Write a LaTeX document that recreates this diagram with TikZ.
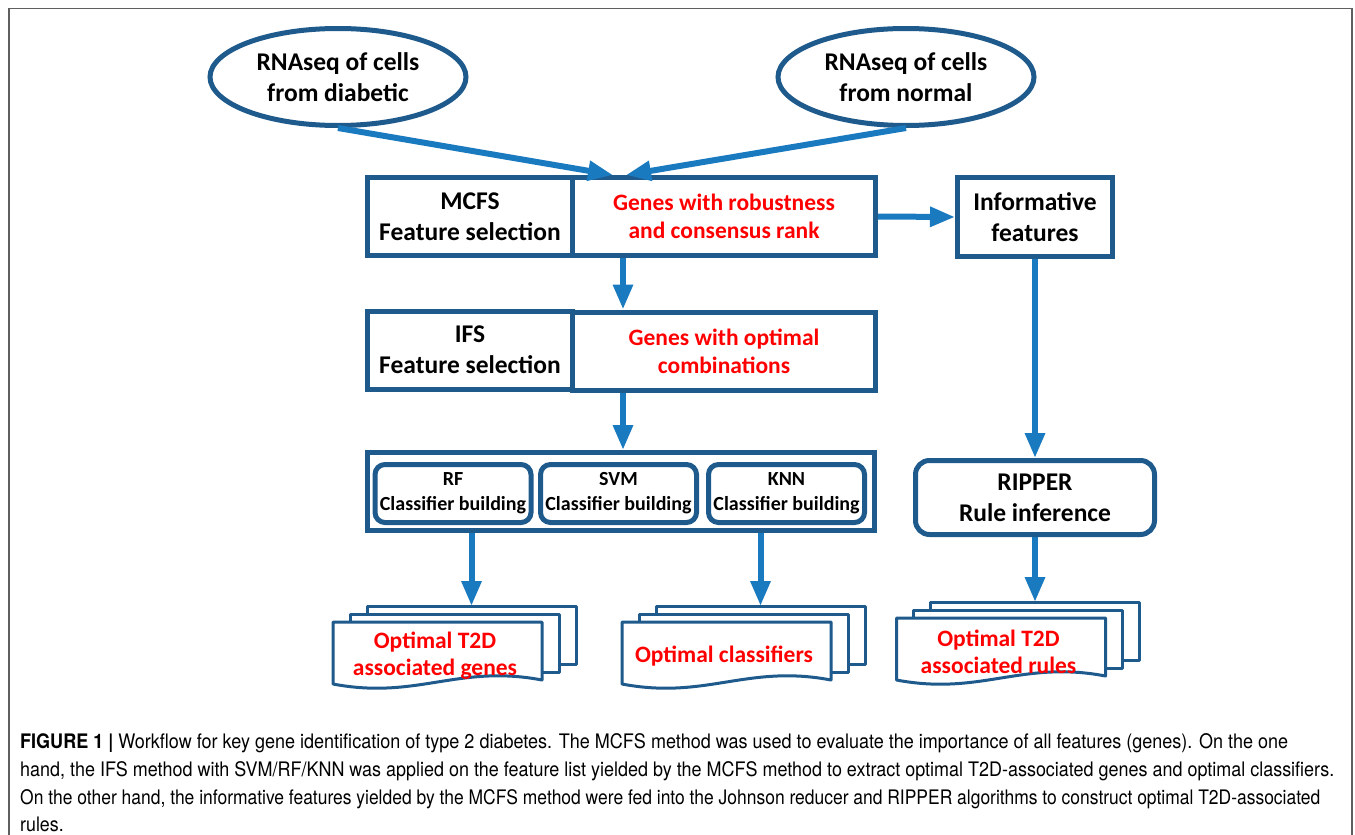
\documentclass[tikz,border=0pt]{standalone}
\usepackage{fontspec}
\usepackage{graphicx}
\usetikzlibrary{arrows.meta,shapes.geometric,calc}
\newfontfamily\diagfont{Carlito}
\newfontfamily\capfont{TeX Gyre Heros}
\definecolor{boxblue}{RGB}{31,90,140}
\definecolor{flowblue}{RGB}{26,122,192}
\definecolor{hired}{RGB}{255,0,0}
\definecolor{framegray}{RGB}{95,95,95}
\tikzset{
  base/.style={draw=boxblue,line width=5pt,align=center,inner sep=0pt,
    font=\diagfont\bfseries\fontsize{25.5}{31}\selectfont},
  src/.style={base,ellipse,fill=white,minimum width=256pt,minimum height=97pt},
  stage/.style={base,rectangle,minimum height=78pt},
  result/.style={stage,text=hired,font=\diagfont\bfseries\fontsize{23.5}{28}\selectfont},
  clfbox/.style={base,rounded corners=10pt,minimum width=156pt,minimum height=58pt,
    font=\diagfont\bfseries\fontsize{20}{25}\selectfont},
  flow/.style={draw=flowblue,line width=6pt,-{Triangle[length=25pt,width=19pt]}},
  sheet/.style={draw=boxblue,line width=3pt,fill=white,line join=round},
  outtext/.style={text=hired,align=center,inner sep=0pt,
    font=\diagfont\bfseries\fontsize{23.5}{27}\selectfont},
  capline/.style={anchor=base west,inner sep=0pt,font=\capfont\fontsize{20}{24}\selectfont}
}
% stack of three sheets: name, front top-left x, y, text
\newcommand{\docstack}[4]{%
  \draw[sheet] (#2+34,#3-16) rectangle ++(209,58);
  \draw[sheet] (#2+17,#3-8) rectangle ++(209,58);
  \draw[sheet] (#2,#3) -- ++(209,0) -- ++(0,58)
    .. controls (#2+125,#3+42) and (#2+84,#3+78) .. (#2,#3+62) -- cycle;
  \node[outtext] (#1) at (#2+102,#3+34) {#4};
  \coordinate (#1top) at (#2+138.5,#3-16);
}
\begin{document}
\begin{tikzpicture}[x=1pt,y=-1pt]
\useasboundingbox (0,0) rectangle (1355,835);
\draw[framegray,line width=1.5pt] (9,835) -- (9,8.5) -- (1352,8.5) -- (1352,835);

% inputs
\node[src] (dia) at (338,77) {RNAseq of cells\\from diabetic};
\node[src] (nor) at (906,77) {RNAseq of cells\\from normal};

% selection stages
\node[stage,minimum width=205pt] (mcfs) at (470,216.5) {MCFS\\Feature selection};
\node[result,minimum width=303pt] (robust) at (724,216.5) {Genes with robustness\\and consensus rank};
\node[stage,minimum width=155pt,minimum height=79pt] (info) at (1035,217) {Informative\\features};
\node[stage,minimum width=205pt] (ifs) at (470,350) {IFS\\Feature selection};
\node[result,minimum width=303pt] (optcomb) at (724,351) {Genes with optimal\\combinations};

% classifiers
\node[stage,minimum width=507pt] (clf) at (621,491.5) {};
\foreach \n/\x/\t in {rf/453/RF,svm/618.5/SVM,knn/786.5/KNN}
  \node[clfbox] (\n) at (\x,493.5) {\t\\Classifier building};
\node[base,rounded corners=14pt,minimum width=239pt,minimum height=74pt] (ripper) at (1035,497.5) {RIPPER\\Rule inference};

% outputs
\docstack{genes}{333}{622}{Optimal T2D\\associated genes}
\docstack{clss}{622}{622}{Optimal classifiers}
\docstack{rules}{896.5}{618}{Optimal T2D\\associated rules}

% connectors
\coordinate (inL) at ($(robust.north west)+(43,0)$);
\coordinate (inR) at ($(robust.north west)+(56,0)$);
\coordinate (spine) at (623,0);
\draw[flow] (dia.south) -- (inL);
\draw[flow] (nor.south) -- (inR);
\draw[flow] (robust.east) -- (info.west);
\draw[flow] (robust.south -| spine) -- (optcomb.north -| spine);
\draw[flow] (optcomb.south -| spine) -- (clf.north -| spine);
\draw[flow] (clf.south -| genestop) -- (genestop);
\draw[flow] (clf.south -| clsstop) -- (clsstop);
\draw[flow] (info.south) -- (ripper.north);
\draw[flow] (ripper.south) -- (rulestop);

% caption
\node[capline] (cap1) at (20,748) {\resizebox{1268pt}{\height}{{\bfseries FIGURE 1 |} Workflow for key gene identification of type 2 diabetes. The MCFS method was used to evaluate the importance of all features (genes). On the one}};
\node[capline] (cap2) at (20,776) {\resizebox{1314pt}{\height}{hand, the IFS method with SVM/RF/KNN was applied on the feature list yielded by the MCFS method to extract optimal T2D-associated genes and optimal classifiers.}};
\node[capline] (cap3) at (20,804) {\resizebox{1300pt}{\height}{On the other hand, the informative features yielded by the MCFS method were fed into the Johnson reducer and RIPPER algorithms to construct optimal T2D-associated}};
\node[capline] (cap4) at (20,831) {\scalebox{0.89}[1]{rules.}};
\end{tikzpicture}
\end{document}
